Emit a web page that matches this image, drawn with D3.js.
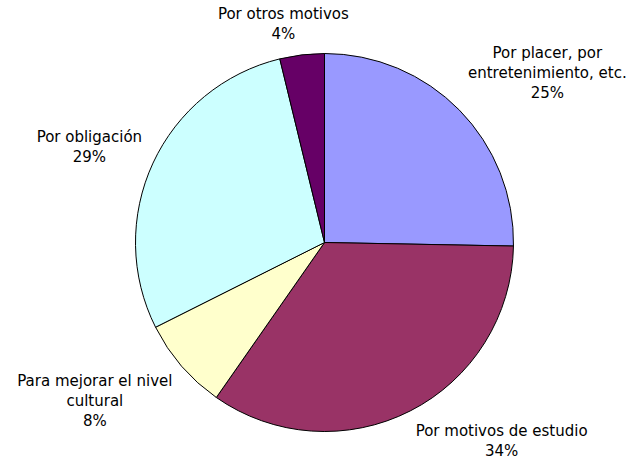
<!DOCTYPE html>
<html>
<head>
<meta charset="utf-8">
<script src="https://cdn.jsdelivr.net/npm/d3@7"></script>
<style>
	body { margin: 0; background: #fff; }
	text { font-family: "DejaVu Sans", Verdana, sans-serif; font-size: 15px; fill: #000; }
</style>
</head>
<body>
<svg id="plot" width="630" height="462"></svg>
<script>

// slices, clockwise from 12 o'clock
const CATEGORIES = [
	['Por placer, por', 'entretenimiento, etc.'],
	['Por motivos de estudio'],
	['Para mejorar el nivel', 'cultural'],
	['Por obligación'],
	['Por otros motivos']
];
const VALUES = [25.3, 34.4, 7.9, 28.6, 3.8];
const COLORS = ['#9999FF', '#993366', '#FFFFCC', '#CCFFFF', '#660066'];

const CX = 324.5, CY = 242.5, R = 189;
const LINE_H = 20;

function whenDocumentLoaded(action) {
	if (document.readyState === "loading") {
		document.addEventListener("DOMContentLoaded", action);
	} else {
		action();
	}
}

whenDocumentLoaded(() => {
	let svg = d3.select('#plot');
	let total = d3.sum(VALUES);

	let data = VALUES.map((v, i) => ({ value: v, lines: CATEGORIES[i], color: COLORS[i] }));

	let pie = d3.pie().sort(null).value(d => d.value);
	let arc = d3.arc().innerRadius(0).outerRadius(R);
	let arcs = pie(data);

	let g = svg.append('g').attr('transform', `translate(${CX},${CY})`);

	g.selectAll('path')
		.data(arcs)
		.enter().append('path')
		.attr('d', arc)
		.attr('fill', d => d.data.color)
		.attr('stroke', '#000')
		.attr('stroke-width', 1)
		.attr('stroke-linejoin', 'round');

	// labels sit just outside the pie, pushed away along the mid angle
	let labels = g.selectAll('g.label')
		.data(arcs)
		.enter().append('g')
		.classed('label', true);

	labels.each(function(d) {
		let lab = d3.select(this);
		let lines = d.data.lines.concat([d3.format('.0f')(d.data.value / total * 100) + '%']);
		let t = lab.append('text').attr('text-anchor', 'middle');
		lines.forEach((s, i) => {
			t.append('tspan').attr('x', 0).attr('y', i * LINE_H).text(s);
		});
		let bb = t.node().getBBox();
		let a = (d.startAngle + d.endAngle) / 2;
		let s = Math.sin(a), c = Math.cos(a);
		let clamp = v => Math.max(-1, Math.min(1, v));
		let px = (R + 12) * s, py = -(R + 12) * c;
		let cx = px + clamp(s * 2.2) * bb.width / 2;
		let cy = py - clamp(c * 1.4) * bb.height / 2;
		let dy = cy - (bb.y + bb.height / 2);
		lab.attr('transform', `translate(${cx},${dy})`);
	});
});
</script>
</body>
</html>
